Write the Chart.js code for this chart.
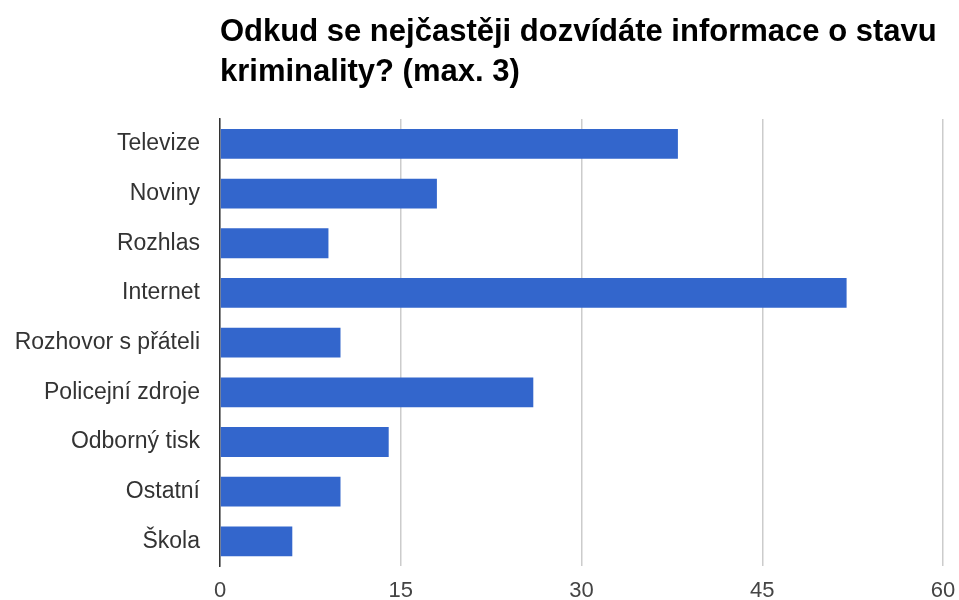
<!DOCTYPE html>
<html>
<head>
<meta charset="utf-8">
<script src="https://cdn.jsdelivr.net/npm/chart.js@4"></script>
<style>
  html, body { margin: 0; padding: 0; background: #fff; }
  #wrap { width: 959px; height: 600px; }
</style>
</head>
<body>
<div id="wrap"><canvas id="myChart" width="959" height="600"></canvas></div>
<script>
// data
var categories = ["Televize", "Noviny", "Rozhlas", "Internet", "Rozhovor s přáteli",
  "Policejní zdroje", "Odborný tisk", "Ostatní", "Škola"];
var counts = [38, 18, 9, 52, 10, 26, 14, 10, 6];
var titleLines = ["Odkud se nejčastěji dozvídáte informace o stavu", "kriminality? (max. 3)"];

// title drawn left-aligned with the plot area
var titlePlugin = {
  id: 'leftTitle',
  afterDraw: function (chart) {
    var ctx = chart.ctx;
    ctx.save();
    ctx.fillStyle = '#000';
    ctx.font = 'bold 31px "Liberation Sans", Arial, sans-serif';
    ctx.textBaseline = 'middle';
    ctx.textAlign = 'left';
    titleLines.forEach(function (line, i) {
      ctx.fillText(line, chart.chartArea.left, 32 + i * 40);
    });
    ctx.restore();
  }
};

new Chart("myChart", {
  type: "bar",
  data: {
    labels: categories,
    datasets: [{
      data: counts,
      backgroundColor: "#3366cc",
      borderWidth: 0,
      barPercentage: 0.6,
      categoryPercentage: 1.0
    }]
  },
  options: {
    indexAxis: 'y',
    responsive: false,
    animation: false,
    layout: { padding: { top: 119, right: 16, bottom: 0, left: 0 } },
    plugins: {
      legend: { display: false },
      tooltip: { enabled: false }
    },
    scales: {
      x: {
        min: 0,
        max: 60,
        afterFit: function (scale) {
          scale.height = 33;
          scale.paddingLeft = 0;
          scale.paddingRight = 0;
        },
        ticks: {
          stepSize: 15,
          padding: 12,
          color: '#444',
          font: { family: '"Liberation Sans", Arial, sans-serif', size: 22 }
        },
        grid: { color: '#cccccc', lineWidth: 1.5, drawTicks: false },
        border: { display: false }
      },
      y: {
        afterFit: function (scale) { scale.width = 220; },
        ticks: {
          padding: 20,
          color: '#333',
          font: { family: '"Liberation Sans", Arial, sans-serif', size: 23 }
        },
        grid: { display: false, drawTicks: false },
        border: { display: true, color: '#333', width: 1.5 }
      }
    }
  },
  plugins: [titlePlugin]
});
</script>
</body>
</html>
